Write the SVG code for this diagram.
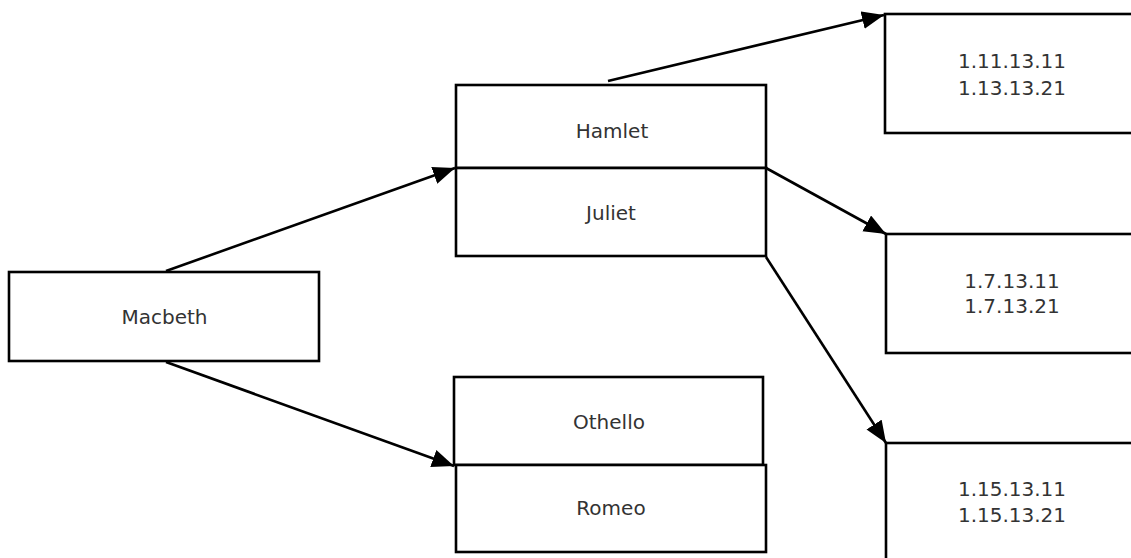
<svg xmlns="http://www.w3.org/2000/svg" width="1131" height="558" viewBox="0 0 1131 558">
  <style>
    .box { fill: #ffffff; stroke: #000000; stroke-width: 2.6; }
    .label { font-family: "DejaVu Sans", sans-serif; font-size: 20px; fill: #333333; text-anchor: middle; }
    .edge { fill: none; stroke: #000000; stroke-width: 2.6; marker-end: url(#arrow); }
  </style>
  <defs>
    <marker id="arrow" markerUnits="userSpaceOnUse" markerWidth="24" markerHeight="20" refX="22" refY="9" orient="auto">
      <path d="M0,0 L22,9 L0,18 Z" fill="#000000"/>
    </marker>
  </defs>

  <rect width="1131" height="558" fill="#ffffff"/>

  <g id="connectors">
    <line class="edge" x1="166" y1="271" x2="455" y2="168"/>
    <line class="edge" x1="166" y1="362" x2="454" y2="466"/>
    <line class="edge" x1="608" y1="81" x2="884" y2="15"/>
    <line class="edge" x1="766" y1="168" x2="886" y2="234"/>
    <line class="edge" x1="766" y1="257" x2="886" y2="443"/>
  </g>

  <g id="macbeth">
    <rect class="box" x="9" y="272" width="310" height="89"/>
    <text class="label" x="164.5" y="324">Macbeth</text>
  </g>

  <g id="hamlet">
    <rect class="box" x="456" y="85" width="310" height="83"/>
    <text class="label" x="612" y="137.5">Hamlet</text>
  </g>

  <g id="juliet">
    <rect class="box" x="456" y="168" width="310" height="88"/>
    <text class="label" x="611" y="220">Juliet</text>
  </g>

  <g id="othello">
    <rect class="box" x="454" y="377" width="309" height="88"/>
    <text class="label" x="609" y="429">Othello</text>
  </g>

  <g id="romeo">
    <rect class="box" x="456" y="465" width="310" height="87"/>
    <text class="label" x="611" y="515">Romeo</text>
  </g>

  <g id="addr-1-11">
    <rect class="box" x="885" y="14" width="270" height="119"/>
    <text class="label" x="1012" y="68">1.11.13.11</text>
    <text class="label" x="1012" y="95">1.13.13.21</text>
  </g>

  <g id="addr-1-7">
    <rect class="box" x="886" y="234" width="270" height="119"/>
    <text class="label" x="1012" y="288">1.7.13.11</text>
    <text class="label" x="1012" y="313">1.7.13.21</text>
  </g>

  <g id="addr-1-15">
    <rect class="box" x="886" y="443" width="270" height="140"/>
    <text class="label" x="1012" y="496">1.15.13.11</text>
    <text class="label" x="1012" y="522">1.15.13.21</text>
  </g>
</svg>
